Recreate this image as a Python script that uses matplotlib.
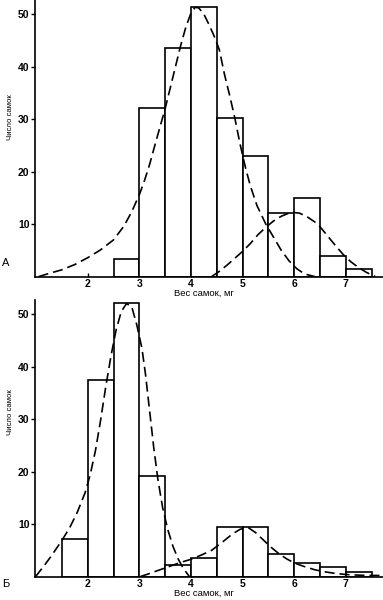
import numpy as np
import matplotlib.pyplot as plt

plt.rcParams['font.family'] = ['Liberation Sans', 'DejaVu Sans']

# ---------------- данные: гистограммы (левая граница интервала, число самок) ----------------
bins_a = [2.5, 3.0, 3.5, 4.0, 4.5, 5.0, 5.5, 6.0, 6.5, 7.0]
counts_a = [3.3, 32.2, 43.6, 51.3, 30.2, 22.9, 12.2, 15.0, 3.9, 1.4]

bins_b = [1.5, 2.0, 2.5, 3.0, 3.5, 4.0, 4.5, 5.0, 5.5, 6.0, 6.5, 7.0]
counts_b = [7.1, 37.4, 52.1, 19.1, 2.3, 3.5, 9.4, 9.4, 4.4, 2.5, 1.9, 0.9]

bar_w = 0.5

# ---------------- данные: пунктирные кривые ----------------
a1_x = [1.05, 1.25, 1.5, 1.75, 2.0, 2.25, 2.5, 2.7, 2.85, 3.0, 3.1, 3.2, 3.3, 3.4,
        3.5, 3.6, 3.7, 3.8, 3.9, 4.0, 4.08, 4.15, 4.25, 4.35, 4.45, 4.55, 4.65,
        4.75, 4.85, 4.95, 5.05, 5.15, 5.28, 5.45, 5.6, 5.75, 5.9, 6.05, 6.2, 6.4]
a1_y = [0.0, 0.6, 1.3, 2.3, 3.6, 5.1, 7.0, 9.6, 12.3, 15.6, 18.3, 21.4, 25.0, 28.5,
        32.0, 36.0, 40.0, 44.0, 47.5, 50.2, 51.3, 51.2, 50.0, 48.0, 45.8, 43.2, 38.5,
        34.5, 30.2, 25.3, 21.0, 17.3, 13.5, 10.0, 7.5, 5.0, 3.0, 1.5, 0.5, 0.0]

a2_x = [4.4, 4.55, 4.7, 4.85, 5.0, 5.15, 5.3, 5.45, 5.6, 5.75, 5.9, 6.0, 6.1,
        6.25, 6.4, 6.5, 6.65, 6.8, 6.95, 7.1, 7.25, 7.4, 7.57]
a2_y = [0.0, 1.0, 2.2, 3.5, 4.8, 6.3, 8.0, 9.4, 10.6, 11.5, 12.1, 12.2, 12.1,
        11.4, 10.4, 9.5, 7.7, 5.9, 4.2, 2.8, 1.7, 0.8, 0.0]

b1_x = [0.99, 1.15, 1.3, 1.5, 1.65, 1.8, 1.95, 2.05, 2.15, 2.25, 2.35, 2.45, 2.55,
        2.65, 2.75, 2.85, 2.95, 3.05, 3.12, 3.2, 3.28, 3.36, 3.45, 3.55, 3.65,
        3.75, 3.85, 3.97]
b1_y = [0.0, 2.0, 4.0, 6.9, 9.3, 12.3, 16.0, 19.5, 24.0, 29.8, 36.2, 42.0, 47.0,
        50.5, 52.0, 51.5, 48.0, 43.5, 38.5, 31.5, 24.5, 18.5, 13.2, 9.0, 5.8,
        3.4, 1.6, 0.0]

b2_x = [3.02, 3.2, 3.4, 3.6, 3.8, 4.0, 4.2, 4.4, 4.6, 4.8, 4.95, 5.1, 5.25, 5.4,
        5.55, 5.7, 5.85, 6.0, 6.2, 6.4, 6.6, 6.8, 7.0, 7.3, 7.72]
b2_y = [0.0, 0.6, 1.3, 2.0, 2.7, 3.3, 4.1, 5.0, 6.5, 8.1, 9.0, 9.4, 8.4, 7.0,
        5.6, 4.4, 3.4, 2.6, 1.9, 1.3, 0.9, 0.6, 0.4, 0.25, 0.2]

xticks = [2, 3, 4, 5, 6, 7]
yticks = [10, 20, 30, 40, 50]
xlabel = 'Вес самок, мг'
ylabel = 'Число самок'

fig = plt.figure(figsize=(3.83, 6.0), dpi=100)

axes_rects = [[0.0914, 0.539, 0.9086, 0.461], [0.0914, 0.039, 0.9086, 0.461]]
panels = [
    (bins_a, counts_a, [(a1_x, a1_y), (a2_x, a2_y)], 'А', 1 - 263 / 600, 0.577),
    (bins_b, counts_b, [(b1_x, b1_y), (b2_x, b2_y)], 'Б', 1 - 584 / 600, 0.595),
]

for rect, (bins, counts, curves, letter, ly, ylab_pos) in zip(axes_rects, panels):
    ax = fig.add_axes(rect)
    ax.bar(bins, counts, width=bar_w, align='edge', color='white',
           edgecolor='black', linewidth=1.2, zorder=2)
    for cx, cy in curves:
        ax.plot(cx, cy, color='black', linestyle=(0, (6, 3)), linewidth=1.2, zorder=3)

    ax.set_xlim(0.979, 7.72)
    ax.set_ylim(0, 52.7)
    ax.set_xticks(xticks)
    ax.set_yticks(yticks)
    ax.tick_params(axis='x', direction='in', length=3, width=1, pad=2, labelsize=7.5)
    ax.tick_params(axis='y', direction='out', length=3, width=1, pad=1, labelsize=7.5)
    for lab in ax.get_xticklabels() + ax.get_yticklabels():
        lab.set_fontweight('bold')

    for s in ['top', 'right']:
        ax.spines[s].set_visible(False)
    for s in ['left', 'bottom']:
        ax.spines[s].set_linewidth(1.2)

    ax.set_xlabel(xlabel, fontsize=6.8)
    ax.xaxis.set_label_coords((204 - 35) / 348, -0.045)
    ax.set_ylabel(ylabel, fontsize=5.6)
    ax.yaxis.set_label_coords(-0.06, ylab_pos)

    fig.text(6 / 383, ly, letter, fontsize=8, ha='center', va='center')

plt.savefig('out.png', dpi=100)
